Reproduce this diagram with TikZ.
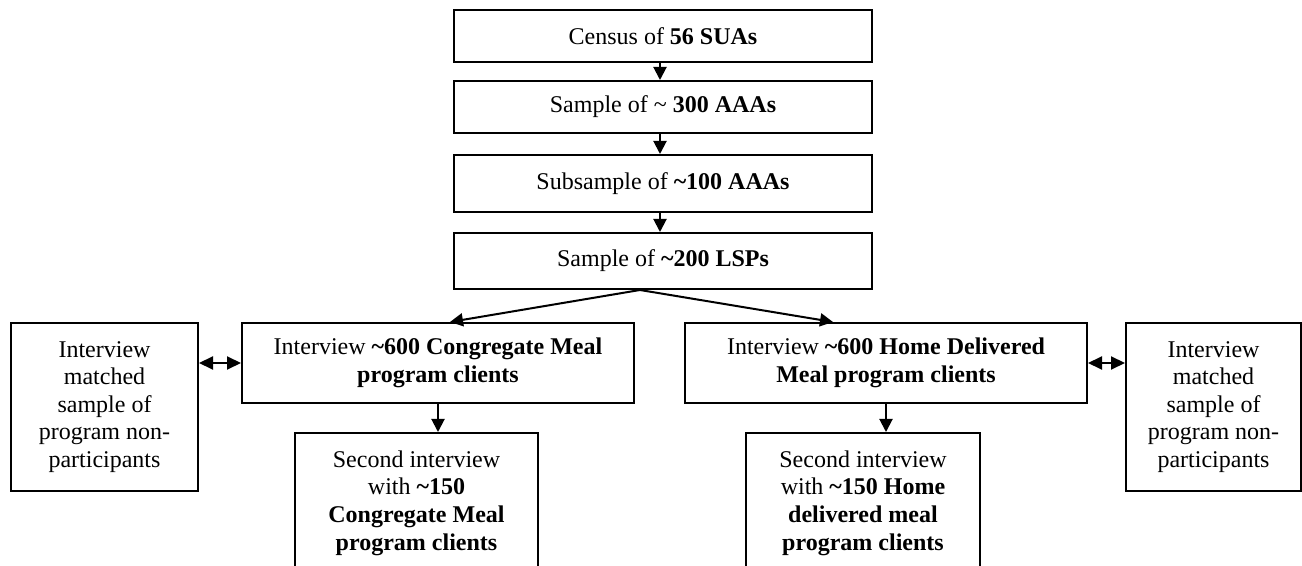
\documentclass[tikz,border=0pt]{standalone}
\usepackage{fontspec}
\setmainfont{Liberation Serif}
\usetikzlibrary{arrows.meta}

\begin{document}
\begin{tikzpicture}[x=0.5pt, y=-0.5pt,
    box/.style={draw, line width=1pt, inner sep=0pt, align=center,
      font=\fontsize{12pt}{13.8pt}\selectfont},
    arr/.style={line width=1pt, -{Triangle[width=6.5pt,length=6.5pt]}},
    dbl/.style={line width=1pt, {Triangle[width=6.5pt,length=7pt]}-{Triangle[width=6.5pt,length=7pt]}}]

          \useasboundingbox (0,0) rectangle (1302,566);

          \node[box, minimum width=209pt, minimum height=26pt] (sua) at (663,36) {Census of \textbf{56 SUAs}};
          \node[box, minimum width=209pt, minimum height=26pt] (aaa) at (663,107) {Sample of \textasciitilde{} \textbf{300 AAAs}};
          \node[box, minimum width=209pt, minimum height=28.5pt] (sub) at (663,183.5) {Subsample of \textbf{\textasciitilde100 AAAs}};
          \node[box, minimum width=209pt, minimum height=28pt] (lsp) at (663,261) {Sample of \textbf{\textasciitilde200 LSPs}};

          \node[box, minimum width=196pt, minimum height=40pt] (cong) at (438,363)
            {Interview \textbf{\textasciitilde600 Congregate Meal}\\ \textbf{program clients}};
          \node[box, minimum width=201pt, minimum height=40pt] (home) at (886,363)
            {Interview \textbf{\textasciitilde600 Home Delivered}\\ \textbf{Meal program clients}};

          \node[box, minimum width=93.5pt, minimum height=84pt] (leftnp) at (104.5,407)
            {Interview\\ matched\\ sample of\\ program non-\\ participants};
          \node[box, minimum width=87.5pt, minimum height=84pt] (rightnp) at (1213.5,407)
            {Interview\\ matched\\ sample of\\ program non-\\ participants};

          \node[box, minimum width=121.5pt, minimum height=70pt] (cong2) at (416.5,503)
            {Second interview\\ with \textbf{\textasciitilde150}\\ \textbf{Congregate Meal}\\ \textbf{program clients}};
          \node[box, minimum width=117pt, minimum height=70pt] (home2) at (863,503)
            {Second interview\\ with \textbf{\textasciitilde150 Home}\\ \textbf{delivered meal}\\ \textbf{program clients}};

          \foreach \a/\b in {sua/aaa, aaa/sub, sub/lsp}{
            \draw[arr] ([xshift=-1.5pt]\a.south) -- ([xshift=-1.5pt]\b.north);
          }

          \draw[arr] ([xshift=-11.5pt]lsp.south) -- ([xshift=6pt]cong.north);
          \draw[arr] ([xshift=-11.5pt]lsp.south) -- ([xshift=-26.5pt]home.north);

          \draw[arr] (cong.south) -- (cong.south |- cong2.north);
          \draw[arr] (home.south) -- (home.south |- home2.north);

          \draw[dbl] (leftnp.east |- cong.west) -- (cong.west);
          \draw[dbl] (home.east) -- (rightnp.west |- home.east);
        \end{tikzpicture}
\end{document}
